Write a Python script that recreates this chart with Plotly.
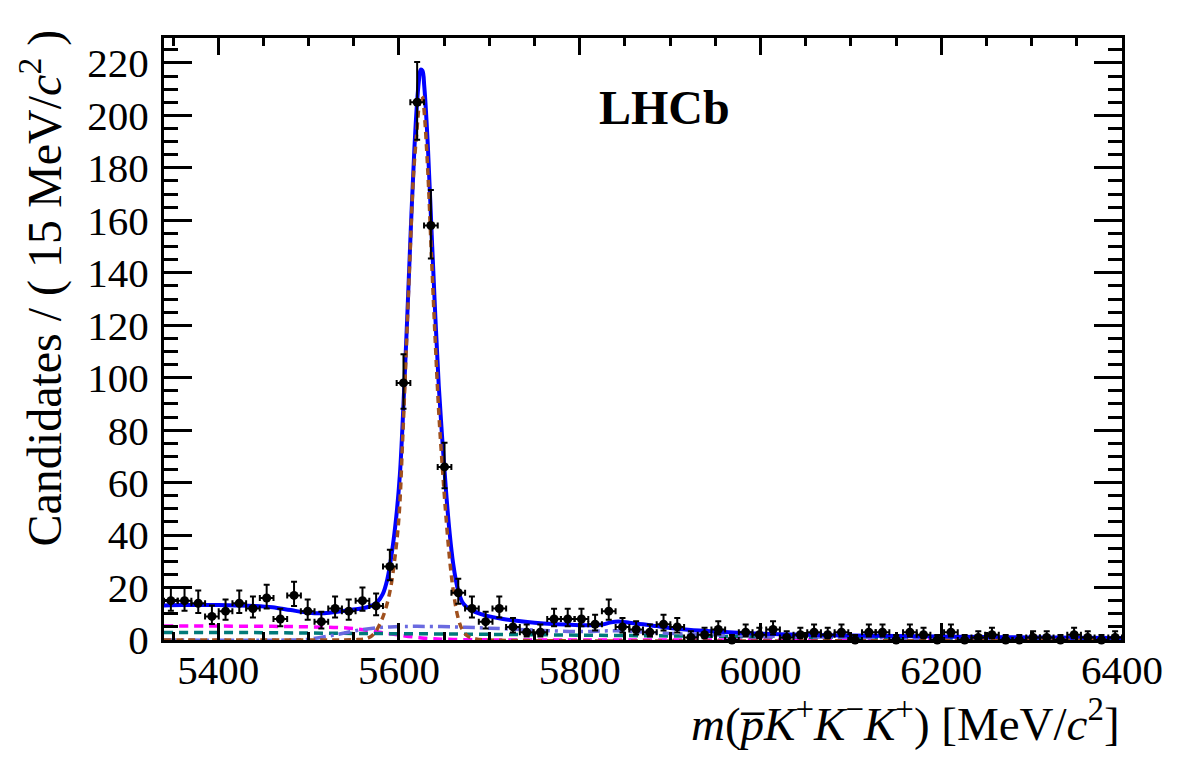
import numpy as np
import plotly.graph_objects as go

# ---------------- data ----------------
bin_centers = [5347.6, 5362.7, 5377.9, 5393.0, 5408.1, 5423.3, 5438.4, 5453.6, 5468.7, 5483.9,
               5499.0, 5514.1, 5529.3, 5544.4, 5559.6, 5574.7, 5589.9, 5605.0, 5620.1, 5635.3,
               5650.4, 5665.6, 5680.7, 5695.9, 5711.0, 5726.1, 5741.3, 5756.4, 5771.6, 5786.7,
               5801.9, 5817.0, 5832.1, 5847.3, 5862.4, 5877.6, 5892.7, 5907.9, 5923.0, 5938.1,
               5953.3, 5968.4, 5983.6, 5998.7, 6013.9, 6029.0, 6044.1, 6059.3, 6074.4, 6089.6,
               6104.7, 6119.9, 6135.0, 6150.1, 6165.3, 6180.4, 6195.6, 6210.7, 6225.9, 6241.0,
               6256.1, 6271.3, 6286.4, 6301.6, 6316.7, 6331.9, 6347.0, 6362.1, 6377.3, 6392.4]
counts = [15, 15, 14, 9, 11, 14, 12, 16, 8, 17,
          11, 7, 12, 11, 15, 13, 28, 98, 205, 158,
          66, 18, 12, 7, 12, 5, 3, 3, 8, 8,
          8, 6, 11, 5, 4, 3, 6, 5, 1, 2,
          4, 0, 3, 2, 4, 1, 2, 3, 2, 3,
          0, 3, 3, 0, 3, 2, 0, 3, 0, 1,
          2, 0, 0, 1, 1, 0, 2, 1, 0, 1]
half_bin = 7.57

total_x = [5340, 5360, 5380, 5400, 5420, 5440, 5460, 5480, 5500, 5515, 5530, 5545, 5558, 5568,
           5576, 5582, 5587, 5592, 5597, 5601, 5605, 5609, 5613, 5617, 5620, 5622, 5624, 5626,
           5628, 5632, 5636, 5640, 5644, 5648, 5652, 5656, 5660, 5665, 5670, 5675, 5681, 5690,
           5700, 5715, 5730, 5750, 5770, 5790, 5810, 5825, 5835, 5845, 5855, 5870, 5885, 5900,
           5920, 5950, 5980, 6000, 6050, 6100, 6150, 6200, 6250, 6300, 6350, 6400]
total_y = [13.2, 13.3, 13.3, 13.3, 13.2, 13.0, 12.5, 11.4, 10.4, 10.2, 10.7, 11.4, 12.0, 12.8,
           14.5, 17.5, 23.0, 33.0, 47.0, 63.0, 90.0, 122.0, 156.0, 187.0, 205.0, 213.0, 217.5, 217.0,
           211.0, 188.0, 156.0, 125.0, 97.0, 76.0, 57.0, 41.0, 29.0, 19.5, 14.5, 12.5, 11.2, 10.0,
           9.0, 8.0, 7.3, 6.6, 6.1, 5.8, 5.6, 5.9, 6.8, 7.0, 6.6, 6.0, 5.3, 4.6,
           3.9, 3.2, 2.7, 2.4, 2.0, 1.7, 1.5, 1.3, 1.1, 1.0, 0.85, 0.75]

sig_x = [5340, 5500, 5550, 5565, 5572, 5578, 5584, 5590, 5595, 5600, 5604, 5608, 5612, 5616,
         5620, 5622, 5624, 5626, 5628, 5632, 5636, 5640, 5644, 5648, 5652, 5656, 5660, 5665,
         5670, 5676, 5685, 5700, 6400]
sig_y = [0.0, 0.0, 0.1, 0.6, 2.2, 5.5, 10.5, 18.5, 30.0, 47.0, 76.0, 110.0, 145.0, 177.0,
         195.0, 203.0, 207.5, 207.0, 201.0, 178.0, 146.0, 115.0, 87.0, 66.0, 47.0, 31.0, 19.0, 9.0,
         4.0, 1.5, 0.4, 0.0, 0.0]

mag_x = [5340, 5400, 5460, 5500, 5545, 5586, 5625, 5660, 5700, 5750, 6400]
mag_y = [5.3, 5.3, 5.2, 5.0, 4.5, 2.6, 0.8, 0.2, 0.05, 0.0, 0.0]

teal_x = [5340, 5450, 5550, 5650, 5750, 5850, 5950, 6050, 6150, 6250, 6400]
teal_y = [2.9, 2.8, 2.5, 2.3, 2.0, 1.7, 1.4, 1.1, 0.9, 0.7, 0.5]

dd_x = [5340, 5480, 5500, 5530, 5560, 5590, 5620, 5660, 5700, 5750, 5800, 5840, 5900, 6000,
        6100, 6200, 6400]
dd_y = [0.0, 0.0, 0.3, 2.0, 4.0, 5.0, 5.2, 5.0, 4.5, 3.8, 3.2, 3.5, 2.5, 1.5,
        1.0, 0.7, 0.4]

x_ticks = [5400, 5600, 5800, 6000, 6200, 6400]
y_ticks = [0, 20, 40, 60, 80, 100, 120, 140, 160, 180, 200, 220]

# ---------------- Poisson (Gehrels) error bars ----------------
n = np.array(counts, dtype=float)
nn = np.maximum(n, 1)
err_up = np.sqrt(n + 0.75) + 1.0
err_lo = np.where(n > 0, n - n * (1 - 1 / (9 * nn) - 1 / (3 * np.sqrt(nn))) ** 3, 0.0)

FONT = "'Liberation Serif', 'Times New Roman', Times, serif"
fig = go.Figure()

fig.add_trace(go.Scatter(x=mag_x, y=mag_y, mode="lines", line=dict(color="#ff00ff", width=3.5, dash="9px,6px"),
                         line_shape="spline", hoverinfo="skip", showlegend=False))
fig.add_trace(go.Scatter(x=teal_x, y=teal_y, mode="lines", line=dict(color="#007a7a", width=3.5, dash="9px,6px"),
                         line_shape="spline", hoverinfo="skip", showlegend=False))
fig.add_trace(go.Scatter(x=dd_x, y=dd_y, mode="lines", line=dict(color="#6a6ae0", width=3.5, dash="12px,5px,3px,5px"),
                         line_shape="spline", hoverinfo="skip", showlegend=False))
fig.add_trace(go.Scatter(x=total_x, y=total_y, mode="lines", line=dict(color="#0000ff", width=4),
                         line_shape="spline", hoverinfo="skip", showlegend=False))
fig.add_trace(go.Scatter(x=sig_x, y=sig_y, mode="lines", line=dict(color="#a0501e", width=3.5, dash="7px,5px"),
                         line_shape="spline", hoverinfo="skip", showlegend=False))

fig.add_trace(go.Scatter(
    x=bin_centers, y=counts, mode="markers",
    marker=dict(color="black", size=9, symbol="circle"),
    error_y=dict(type="data", symmetric=False, array=err_up, arrayminus=err_lo,
                 color="black", thickness=2, width=3),
    error_x=dict(type="constant", value=half_bin, color="black", thickness=2, width=3),
    cliponaxis=False, showlegend=False, hoverinfo="skip"))

axis_common = dict(showline=True, linecolor="black", linewidth=3, mirror="ticks",
                   ticks="inside", tickwidth=3, tickcolor="black", showgrid=False, zeroline=False,
                   tickfont=dict(family=FONT, size=41, color="black"))

fig.update_xaxes(range=[5340, 6400], tickvals=x_ticks, ticklen=17,
                 minor=dict(dtick=50, tick0=5400, ticklen=8, tickwidth=3, tickcolor="black", ticks="inside"),
                 ticklabelstandoff=-8, **axis_common)
fig.update_yaxes(range=[0, 229.5], tickvals=y_ticks, ticklen=28,
                 minor=dict(dtick=5, tick0=0, ticklen=14, tickwidth=3, tickcolor="black", ticks="inside"),
                 ticklabelstandoff=4, **axis_common)

fig.add_annotation(text="<b>LHCb</b>", x=(664 - 164) / 958, y=(640 - 107) / 602, xref="paper", yref="paper",
                   showarrow=False, xanchor="center", yanchor="middle",
                   font=dict(family=FONT, size=48, color="black"))
fig.add_annotation(text="<i>m</i>(<i>p\u0305K</i><sup>+</sup><i>K</i><sup>\u2212</sup><i>K</i><sup>+</sup>) [MeV/<i>c</i><sup>2</sup>]",
                   x=1.0, y=(640 - 720) / 602, xref="paper", yref="paper", showarrow=False,
                   xanchor="right", yanchor="middle", font=dict(family=FONT, size=47, color="black"))
fig.add_annotation(text="Candidates / ( 15 MeV/<i>c</i><sup>2</sup> )", textangle=-90,
                   x=(41 - 164) / 958, y=(640 - 28) / 602, xref="paper", yref="paper", showarrow=False,
                   xanchor="center", yanchor="top", font=dict(family=FONT, size=48, color="black"))

fig.update_layout(width=1182, height=763, margin=dict(l=164, r=60, t=38, b=123),
                  paper_bgcolor="white", plot_bgcolor="white",
                  font=dict(family=FONT, color="black"))
fig.write_html("out.html")
